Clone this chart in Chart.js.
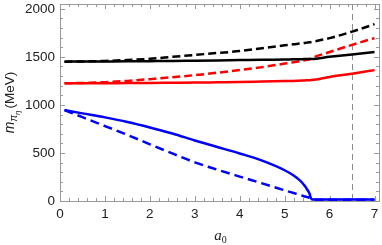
<!DOCTYPE html>
<html>
<head>
<meta charset="utf-8">
<script src="https://cdn.jsdelivr.net/npm/chart.js@4/dist/chart.umd.min.js"></script>
<style>
html,body{margin:0;padding:0;background:#fff;}
canvas{display:block;}
</style>
</head>
<body>
<canvas id="c" width="382" height="245"></canvas>
<script>
// ---- data ----
const a0 = [0.1,0.5,1,1.5,2,2.5,3,3.5,4,4.5,5,5.2,5.3,5.4,5.45,5.5,5.55,5.6,6,6.5,7];
const blackSolid  = [1450,1451,1452,1453,1455,1457,1460,1463,1466,1469,1473,1474,1475,1476,1477,1477,1478,1478,1500,1525,1550];
const blackDashed = [1450,1452,1458,1467,1480,1500,1520,1540,1560,1590,1620,1630,1636,1642,1645,1648,1651,1655,1695,1762,1840];
const redSolid    = [1225,1225,1226,1227,1228,1230,1232,1235,1238,1243,1248,1250,1252,1254,1255,1256,1257,1258,1290,1325,1362];
const redDashed   = [1225,1228,1237,1250,1268,1288,1310,1335,1362,1393,1430,1444,1452,1460,1465,1470,1475,1487,1550,1625,1695];
const blueSolid   = [946,912,870,822,765,702,630,562,495,420,320,265,230,185,155,120,80,18,15,15,15];
const blueDashed  = [946,872,780,688,590,495,402,326,254,183,111,83,69,54,47,40,33,15,12,12,12];
const xTicks = [0,1,2,3,4,5,6,7];
const yTicks = [0,500,1000,1500,2000];
const vLineX = 6.5;

function pts(ys){ return a0.map((x,i)=>({x:x,y:ys[i]})); }

const framePlugin = {
  id:'frame',
  beforeDatasetsDraw(chart){
    const ctx = chart.ctx, ca = chart.chartArea;
    const xs = chart.scales.x, ys = chart.scales.y;
    ctx.save();
    ctx.strokeStyle = '#8a8a8a'; ctx.lineWidth = 1; ctx.setLineDash([6,4]);
    const vx = Math.round(xs.getPixelForValue(vLineX)) + 0.5;
    ctx.beginPath(); ctx.moveTo(vx, ca.top); ctx.lineTo(vx, ca.bottom); ctx.stroke();
    ctx.setLineDash([]);
    ctx.strokeStyle = '#9a9a9a'; ctx.lineWidth = 1;
    ctx.beginPath();
    for (let i=0;i<=35;i++){
      const v = i*0.2; const major = (i%5===0);
      const L = major?5:3;
      const px = Math.round(xs.getPixelForValue(v))+0.5;
      ctx.moveTo(px, ca.bottom); ctx.lineTo(px, ca.bottom-L);
      ctx.moveTo(px, ca.top); ctx.lineTo(px, ca.top+L);
    }
    for (let i=0;i<=20;i++){
      const v = i*100; const major = (i%5===0);
      const L = major?5:3;
      const py = Math.round(ys.getPixelForValue(v))+0.5;
      ctx.moveTo(ca.left, py); ctx.lineTo(ca.left+L, py);
      ctx.moveTo(ca.right, py); ctx.lineTo(ca.right-L, py);
    }
    ctx.stroke();
    ctx.strokeStyle = '#9a9a9a';
    ctx.strokeRect(Math.round(ca.left)+0.5, Math.round(ca.top)+0.5, Math.round(ca.right-ca.left), Math.round(ca.bottom-ca.top));
    ctx.restore();
  },
  afterDraw(chart){
    const ctx = chart.ctx, ca = chart.chartArea;
    ctx.save();
    ctx.fillStyle = '#222';
    ctx.translate(14, (ca.top+ca.bottom)/2);
    ctx.rotate(-Math.PI/2);
    ctx.textBaseline = 'alphabetic'; ctx.textAlign = 'left';
    const f1 = 'italic 14px "Liberation Sans", Arial, sans-serif';
    const f2 = 'italic 10px "Liberation Sans", Arial, sans-serif';
    const f3 = 'italic 8px "Liberation Sans", Arial, sans-serif';
    const f4 = '13.5px "Liberation Sans", Arial, sans-serif';
    ctx.font=f1; const w1 = ctx.measureText('m').width;
    ctx.font=f2; const w2 = ctx.measureText('π').width;
    ctx.font=f3; const w3 = ctx.measureText('η').width;
    ctx.font=f4; const w4 = ctx.measureText('(MeV)').width;
    const total = w1+w2+w3+2+w4;
    let x = -total/2;
    ctx.font=f1; ctx.fillText('m', x, 0); x+=w1;
    ctx.font=f2; ctx.fillText('π', x, 3); x+=w2;
    ctx.font=f3; ctx.fillText('η', x, 6); x+=w3+2;
    ctx.font=f4; ctx.fillText('(MeV)', x, 0);
    ctx.restore();
    ctx.save();
    ctx.fillStyle = '#222';
    ctx.textBaseline='alphabetic'; ctx.textAlign='left';
    const g1 = 'italic 15px "Liberation Serif", "DejaVu Serif", serif';
    const g2 = '10px "Liberation Serif", "DejaVu Serif", serif';
    ctx.font=g1; const aw = ctx.measureText('a').width;
    ctx.font=g2; const zw = ctx.measureText('0').width;
    let sx = (ca.left+ca.right)/2 - (aw+zw)/2 + 1;
    ctx.font=g1; ctx.fillText('a', sx, 240);
    ctx.font=g2; ctx.fillText('0', sx+aw, 243);
    ctx.restore();
  }
};

const tickFont = {family:'"Liberation Sans", Arial, sans-serif', size:13.5};

new Chart(document.getElementById('c'), {
  type:'line',
  data:{
    datasets:[
      {data:pts(blackDashed), borderColor:'#000000', borderDash:[8,4], borderWidth:2.5},
      {data:pts(blackSolid),  borderColor:'#000000', borderWidth:2.5},
      {data:pts(redDashed),   borderColor:'#ff0000', borderDash:[8,4], borderWidth:2.5},
      {data:pts(redSolid),    borderColor:'#ff0000', borderWidth:2.5},
      {data:pts(blueDashed),  borderColor:'#0000ff', borderDash:[9,5], borderWidth:2.5},
      {data:pts(blueSolid),   borderColor:'#0000ff', borderWidth:2.5}
    ]
  },
  options:{
    responsive:false, animation:false,
    layout:{padding:{top:4,right:3,left:0,bottom:0}},
    plugins:{legend:{display:false}, tooltip:{enabled:false}},
    elements:{point:{radius:0}, line:{cubicInterpolationMode:'monotone', fill:false}},
    scales:{
      x:{type:'linear', min:0, max:7.1,
         afterFit(s){ s.height = 44; s.paddingLeft = 0; s.paddingRight = 0; },
         afterBuildTicks(s){ s.ticks = xTicks.map(v=>({value:v})); },
         ticks:{font:tickFont, color:'#222', padding:5, maxRotation:0, autoSkip:false, callback:v=>String(v)},
         grid:{display:false, drawTicks:false}, border:{display:false}},
      y:{type:'linear', min:0, max:2050,
         afterFit(s){ s.width = 60; s.paddingTop = 0; s.paddingBottom = 0; },
         afterBuildTicks(s){ s.ticks = yTicks.map(v=>({value:v})); },
         ticks:{font:tickFont, color:'#222', padding:5, autoSkip:false, callback:v=>String(v)},
         grid:{display:false, drawTicks:false}, border:{display:false}}
    }
  },
  plugins:[framePlugin]
});
</script>
</body>
</html>
